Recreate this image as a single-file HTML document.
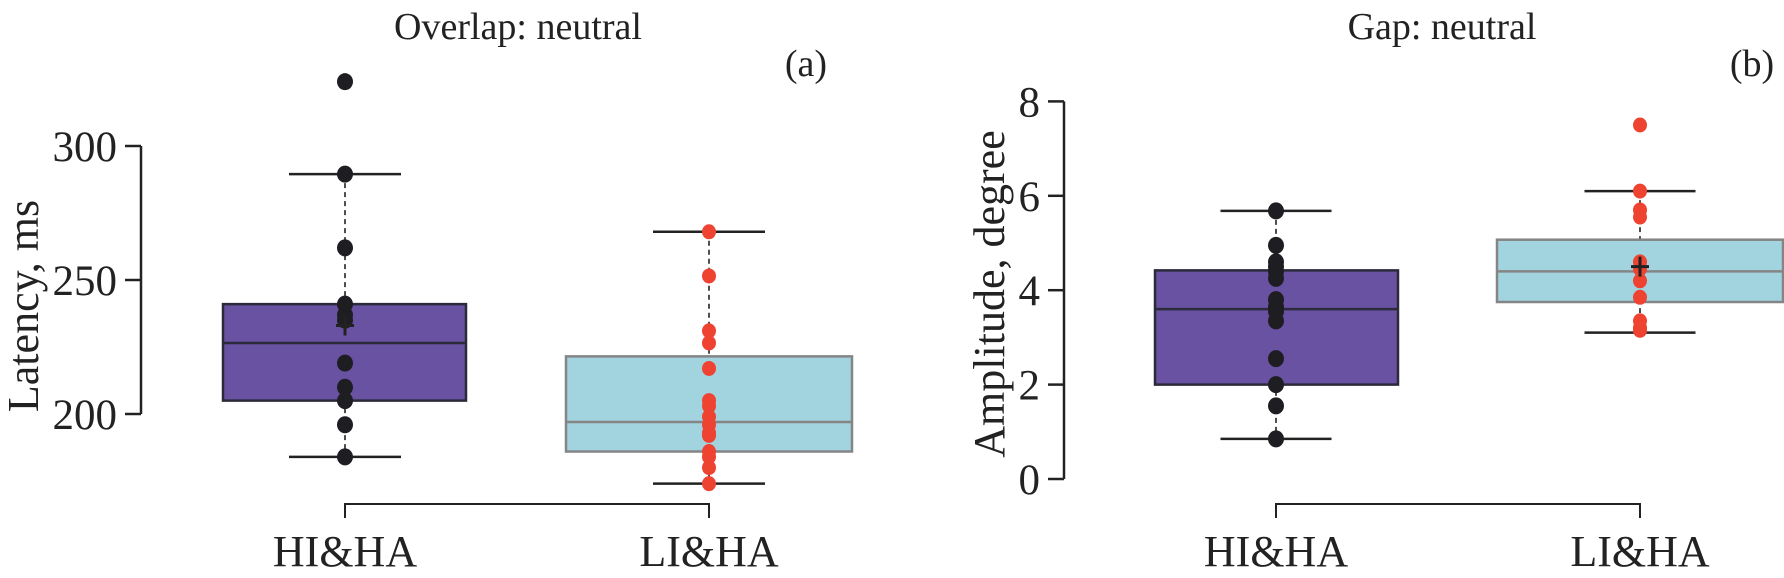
<!DOCTYPE html>
<html><head><meta charset="utf-8"><style>
html,body{margin:0;padding:0;background:#fff;}
svg{display:block;font-family:"Liberation Serif",serif;}
</style></head><body>
<svg id="c" width="1784" height="578" viewBox="0 0 1784 578">
<text x="518" y="39" font-size="38" text-anchor="middle" fill="#222">Overlap: neutral</text>
<text x="806" y="76" font-size="38" text-anchor="middle" fill="#222">(a)</text>
<text x="1442" y="39" font-size="38" text-anchor="middle" fill="#222">Gap: neutral</text>
<text x="1752" y="76" font-size="38" text-anchor="middle" fill="#222">(b)</text>
<text transform="translate(38,306) rotate(-90)" font-size="44" text-anchor="middle" fill="#222">Latency, ms</text>
<text transform="translate(1004,294) rotate(-90)" font-size="44" text-anchor="middle" fill="#222">Amplitude, degree</text>
<g id="pa"></g>
<g id="pb"></g>
</svg>
<script>
const groups = ["HI&HA", "LI&HA"];
// Panel A (latency, ms)
const aTicks = [200, 250, 300];
const aStats = [[184, 205, 226.5, 241, 289.5], [174, 186, 197, 221.5, 268]];
const aMeans = [233, null];
const aPointsHI = [324, 289.5, 262, 241, 237, 235, 219, 210, 205, 196, 184];
const aPointsLI = [268, 251.5, 231, 226.5, 217, 205, 203, 199, 196, 193, 192, 186, 184, 180, 174];
// Panel B (amplitude, degree)
const bTicks = [0, 2, 4, 6, 8];
const bStats = [[0.85, 2.0, 3.6, 4.42, 5.68], [3.1, 3.75, 4.4, 5.07, 6.1]];
const bMeans = [null, 4.5];
const bPointsHI = [5.68, 4.95, 4.6, 4.5, 4.4, 4.25, 3.8, 3.65, 3.55, 3.35, 2.55, 2.0, 1.55, 0.85];
const bPointsLI = [7.5, 6.1, 5.7, 5.55, 4.6, 4.45, 4.2, 3.85, 3.35, 3.2, 3.15];

const NS = "http://www.w3.org/2000/svg";
function mk(parent, tag, attrs) {
  const e = document.createElementNS(NS, tag);
  for (const k in attrs) e.setAttribute(k, attrs[k]);
  parent.appendChild(e);
  return e;
}

function panel(g, cfg) {
  const y = v => cfg.y0 - (v - cfg.v0) * cfg.k;
  const ax = mk(g, "line", {x1: cfg.axX, x2: cfg.axX, y1: y(cfg.ticks[0]), y2: y(cfg.ticks[cfg.ticks.length - 1]), stroke: "#222", "stroke-width": 2.5});
  
  
  cfg.ticks.forEach(t => {
    const tk = mk(g, "line", {x1: cfg.axX - 16, x2: cfg.axX, y1: y(t), y2: y(t), stroke: "#222", "stroke-width": 2.5});
    
    
    const tl = mk(g, "text", {x: cfg.axX - 24, y: y(t) + 15, "font-size": 43, "text-anchor": "end", fill: "#222"});
    tl.textContent = t;
    
    
  });
  const br = mk(g, "path", {d: `M${cfg.cx[0]},518 V504 H${cfg.cx[1]} V518`, fill: "none", stroke: "#222", "stroke-width": 2});
  
  
  groups.forEach((name, i) => {
    const cx = cfg.cx[i];
    const s = cfg.stats[i];
    const gg = mk(g, "g", {});
    
    
    const lbl = mk(g, "text", {x: cx, y: 566, "font-size": 44, "text-anchor": "middle", fill: "#222"});
    lbl.textContent = name;
    
    
    const bw = cfg.bw[i], ww = cfg.ww;
    const border = i === 0 ? "#2a2a3a" : "#858585";
    mk(gg, "line", {x1: cx, x2: cx, y1: y(s[4]), y2: y(s[0]), stroke: "#222", "stroke-width": 1.6, "stroke-dasharray": "5,4"});
    mk(gg, "line", {x1: cx - ww / 2, x2: cx + ww / 2, y1: y(s[4]), y2: y(s[4]), stroke: "#222", "stroke-width": 2.5});
    mk(gg, "line", {x1: cx - ww / 2, x2: cx + ww / 2, y1: y(s[0]), y2: y(s[0]), stroke: "#222", "stroke-width": 2.5});
    mk(gg, "rect", {x: bw[0], y: y(s[3]), width: bw[1] - bw[0], height: y(s[1]) - y(s[3]), fill: i === 0 ? "#6852a1" : "#a2d4e0", stroke: border, "stroke-width": 2.5});
    mk(gg, "line", {x1: bw[0], x2: bw[1], y1: y(s[2]), y2: y(s[2]), stroke: border, "stroke-width": 2.5});
    cfg.pts[i].forEach(v => {
      const c = mk(gg, "ellipse", {cx: cx, cy: y(v), rx: i === 0 ? 8 : 7, ry: i === 0 ? 8.5 : 7.5, fill: i === 0 ? "#1e1e22" : "#ef4332"});
      
      
    });
    const m = cfg.means[i];
    if (m !== null) {
      const mm = mk(gg, "path", {d: `M${cx - 9},${y(m)} H${cx + 9} M${cx},${y(m) - 10} V${y(m) + 10}`, stroke: "#222", "stroke-width": 3});
      
      
    }
  });
}

panel(document.getElementById("pa"), {
  axX: 141, y0: 414, v0: 200, k: 2.68, ticks: aTicks, cx: [345, 709],
  bw: [[223, 466], [566, 852]], ww: 112, stats: aStats, means: aMeans, pts: [aPointsHI, aPointsLI]
});
panel(document.getElementById("pb"), {
  axX: 1064, y0: 479, v0: 0, k: 47.2, ticks: bTicks, cx: [1276, 1640],
  bw: [[1155, 1398], [1497, 1783]], ww: 111, stats: bStats, means: bMeans, pts: [bPointsHI, bPointsLI]
});
</script>
</body></html>
